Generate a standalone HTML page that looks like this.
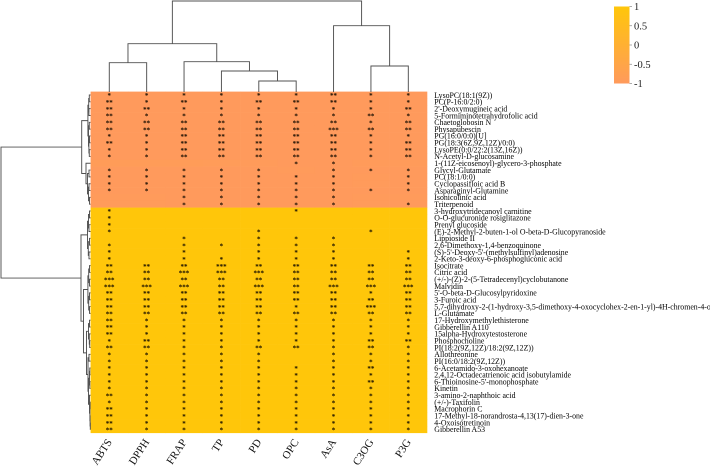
<!DOCTYPE html>
<html lang="en">
<head>
<meta charset="utf-8">
<title>Correlation heatmap</title>
<style>
  html, body { margin: 0; padding: 0; background: #fff; width: 710px; height: 467px; overflow: hidden; }
  #chart { display: block; filter: blur(0.25px); font-family: "Liberation Serif", serif; }
</style>
</head>
<body>
<svg id="chart" width="710" height="467" viewBox="0 0 710 467" xmlns="http://www.w3.org/2000/svg"></svg>
<script>
const columnLabels = ["ABTS","DPPH","FRAP","TP","PD","OPC","AsA","C3OG","P3G"];
const rowLabels = [
"LysoPC(18:1(9Z))","PC(P-16:0/2:0)","2'-Deoxymugineic acid","5-Formiminotetrahydrofolic acid","Chaetoglobosin N","Physapubescin","PG(16:0/0:0)[U]","PG(18:3(6Z,9Z,12Z)/0:0)","LysoPE(0:0/22:2(13Z,16Z))","N-Acetyl-D-glucosamine",
"1-(11Z-eicosenoyl)-glycero-3-phosphate","Glycyl-Glutamate","PC(18:1/0:0)","Cyclopassifloic acid B","Asparaginyl-Glutamine","Isonicolinic acid","Triterpenoid","3-hydroxytridecanoyl carnitine","O-O-glucuronide rosiglitazone","Prenyl glucoside",
"(E)-2-Methyl-2-buten-1-ol O-beta-D-Glucopyranoside","Lippioside II","2,6-Dimethoxy-1,4-benzoquinone","(S)-5'-Deoxy-5'-(methylsulfinyl)adenosine","2-Keto-3-deoxy-6-phosphogluconic acid","Isocitrate","Citric acid","(+/-)-(Z)-2-(5-Tetradecenyl)cyclobutanone","Malvidin","5'-O-beta-D-Glucosylpyridoxine",
"3-Furoic acid","5,7-dihydroxy-2-(1-hydroxy-3,5-dimethoxy-4-oxocyclohex-2-en-1-yl)-4H-chromen-4-one","L-Glutamate","17-Hydroxymethylethisterone","Gibberellin A110","15alpha-Hydroxytestosterone","Phosphocholine","PI(18:2(9Z,12Z)/18:2(9Z,12Z))","Allothreonine","PI(16:0/18:2(9Z,12Z))",
"6-Acetamido-3-oxohexanoate","2,4,12-Octadecatrienoic acid isobutylamide","6-Thioinosine-5'-monophosphate","Kinetin","3-amino-2-naphthoic acid","(+/-)-Taxifolin","Macrophorin C","17-Methyl-18-norandrosta-4,13(17)-dien-3-one","4-Oxoisotretinoin","Gibberellin A53"
];
const cellValues = [
[-1,-1,-1,-1,-1,-1,-1,-1,-1],[-1,-1,-1,-1,-1,-1,-1,-1,-1],[-1,-1,-1,-1,-1,-1,-1,-1,-1],[-1,-1,-1,-1,-1,-1,-1,-1,-1],[-1,-1,-1,-1,-1,-1,-1,-1,-1],
[-1,-1,-1,-1,-1,-1,-1,-1,-1],[-1,-1,-1,-1,-1,-1,-1,-1,-1],[-1,-1,-1,-1,-1,-1,-1,-1,-1],[-1,-1,-1,-1,-1,-1,-1,-1,-1],[-1,-1,-1,-1,-1,-1,-1,-1,-1],
[-0.9,-0.9,-0.9,-0.92,-0.95,-1,-1,-0.95,-0.95],[-1,-1,-1,-1,-1,-0.97,-1,-1,-1],[-1,-1,-1,-1,-1,-1,-1,-0.97,-1],[-1,-1,-1,-1,-1,-1,-1,-0.97,-1],[-1,-1,-1,-1,-1,-1,-1,-1,-1],
[-0.97,-0.97,-1,-1,-1,-1,-1,-0.97,-0.97],[-0.97,-0.97,-1,-1,-1,-1,-1,-0.97,-1],
[1,1,1,1,1,1,1,1,1],[1,1,1,1,1,1,1,1,1],[1,1,1,1,1,1,1,1,1],[1,1,1,1,1,1,1,1,1],[1,1,1,1,1,1,1,1,1],[1,1,1,1,1,1,1,1,1],[1,1,1,1,1,1,1,1,1],[1,1,1,1,1,1,1,1,1],
[1,1,1,1,1,1,1,1,1],[1,1,1,1,1,1,1,1,1],[1,1,1,1,1,1,1,1,1],[1,1,1,1,1,1,1,1,1],[1,1,1,1,1,1,1,1,1],[1,1,1,1,1,1,1,1,1],[1,1,1,1,1,1,1,1,1],[1,1,1,1,1,1,1,1,1],
[1,1,1,1,1,1,1,1,1],[1,1,1,1,1,1,1,1,1],[1,1,1,1,1,1,1,1,1],[1,1,1,1,1,1,1,1,1],[1,1,1,1,1,1,1,1,1],[1,1,1,1,1,1,1,1,1],[1,1,1,1,1,1,1,1,1],[1,1,1,1,1,1,1,1,1],
[1,1,1,1,1,1,1,1,1],[1,1,1,1,1,1,1,1,1],[1,1,1,1,1,1,1,1,1],[1,1,1,1,1,1,1,1,1],[1,1,1,1,1,1,1,1,1],[1,1,1,1,1,1,1,1,1],[1,1,1,1,1,1,1,1,1],[1,1,1,1,1,1,1,1,1],[1,1,1,1,1,1,1,1,1]
];
const starCounts = [
[1,1,1,1,1,1,2,1,1],[2,1,2,1,2,2,2,1,1],[2,2,1,1,1,1,1,1,2],[2,1,1,1,1,1,1,2,1],[2,2,2,2,2,2,2,1,2],
[2,2,2,2,2,2,3,2,2],[1,1,2,2,2,2,2,1,1],[2,1,2,2,2,2,2,1,2],[1,1,2,2,2,2,2,1,2],[1,1,2,2,2,2,2,1,2],
[0,0,0,0,0,1,1,0,0],[1,1,1,1,1,0,1,1,1],[1,1,1,1,1,1,1,0,1],[1,1,1,1,1,1,1,0,1],[1,1,1,1,1,1,1,1,1],
[0,0,1,1,1,1,1,0,0],[0,0,1,1,1,1,1,0,1],
[1,0,0,0,0,1,0,0,0],[1,0,0,0,0,0,0,0,0],[1,0,0,0,0,0,0,0,0],[1,0,0,0,1,0,0,1,0],[0,0,1,0,1,1,1,0,0],[1,0,1,1,1,1,1,0,0],[1,0,1,0,1,1,1,0,1],[1,0,1,1,1,1,1,0,1],
[2,2,2,3,2,2,2,2,2],[2,2,3,3,3,2,2,2,2],[3,2,2,2,2,2,2,2,2],[3,3,3,2,3,2,3,3,3],[2,2,2,2,2,2,2,1,2],[2,2,2,2,2,2,2,2,2],[2,2,2,2,2,1,2,3,2],[2,2,2,2,2,2,2,2,2],
[2,1,1,1,1,1,1,1,1],[2,1,1,1,1,1,1,1,1],[2,1,1,1,1,1,1,1,1],[1,2,1,1,1,1,1,2,2],[2,2,1,1,2,2,1,2,1],[1,1,1,1,1,0,1,1,1],[1,1,1,1,1,0,1,1,1],
[1,1,1,1,1,1,1,2,1],[1,1,1,1,1,1,1,1,1],[1,1,1,1,1,1,1,2,1],[1,1,1,1,1,1,1,1,1],[2,1,1,1,1,1,1,1,1],[1,1,1,1,1,1,1,1,1],[2,1,1,1,1,1,1,1,1],[2,1,1,1,1,1,1,1,1],[2,1,1,1,1,1,1,1,1],[2,1,1,1,1,1,1,1,1]
];
const colorTicks = [1, 0.5, 0, -0.5, -1];
/* dendrograms: [mergeHeight, leftChild, rightChild]; a bare number is a leaf index */
const columnTree = [91,[48.3,[29.3,0,1],[30.3,2,[21,3,[11,4,5]]]],[66.3,6,[26,7,8]]];
const rowTree = [89.5,
  [8.8,
    [2.6,[1.8,[1.2,0,1],[1.6,2,3]],[2,[1.2,4,5],[1.6,[1,6,7],[1.2,8,9]]]],
    [4.5,10,[3,[1.5,11,12],[2,[1.5,13,14],[1,15,16]]]]],
  [9.5,
    [3,[2,[1,17,18],[1.5,19,20]],[2.2,[1,21,22],[1.5,23,24]]],
    [7,
      [2.6,[1.8,[1,25,26],[1,27,28]],[1.8,[1,29,30],[1,31,32]]],
      [4,
        [2,[1,33,34],[1.2,35,[0.8,36,37]]],
        [2.5,[1.5,38,39],[2,[1,[0.7,40,41],[0.7,42,43]],[1,44,[0.6,[0.4,45,46],[0.4,47,[0.2,48,49]]]]]]]]]];

const svg = document.getElementById('chart');
const NS = 'http://www.w3.org/2000/svg';
const plot = { left: 90.6, top: 91.6, right: 427, bottom: 432.8 };
const colW = (plot.right - plot.left) / columnLabels.length;
const rowH = (plot.bottom - plot.top) / rowLabels.length;
const xBand = i => plot.left + i * colW;
const yBand = i => plot.top + i * rowH;
const lowColor = [255, 154, 92], highColor = [255, 198, 10];
function colorScale(v) {
  const t = (v + 1) / 2;
  const c = lowColor.map((l, i) => Math.round(l + (highColor[i] - l) * t));
  return 'rgb(' + c.join(',') + ')';
}
function make(tag, attrs, parent) {
  const el = document.createElementNS(NS, tag);
  for (const k in attrs) el.setAttribute(k, attrs[k]);
  (parent || svg).appendChild(el);
  return el;
}

/* heatmap cells */
const cellsG = make('g', {});


cellValues.forEach((row, r) => row.forEach((v, c) => {
  const cell = make('rect', { x: xBand(c), y: yBand(r), width: colW + 0.3, height: rowH + 0.3, fill: colorScale(v) }, cellsG);
  
  
}));

/* significance stars */
const starsG = make('g', { 'font-size': 7, 'font-weight': 'bold', 'text-anchor': 'middle', fill: '#140c00' });


starCounts.forEach((row, r) => row.forEach((n, c) => {
  if (!n) return;
  const t = make('text', { x: xBand(c) + colW / 2, y: yBand(r) + rowH / 2 + 3.2 }, starsG);
  t.textContent = '*'.repeat(n);
  
  
}));

/* row labels: glyphs are horizontally condensed in the reference */
const rowLabelG = make('g', { 'font-size': 8.85, fill: '#000', transform: 'translate(434.3 0) scale(0.886 1)' });


rowLabels.forEach((s, r) => {
  const t = make('text', { x: 0, y: yBand(r) + rowH / 2 + 2.8 }, rowLabelG);
  t.textContent = s;
  
  
});

/* column labels */
const colLabelG = make('g', { 'font-size': 11, 'text-anchor': 'end', fill: '#111' });


columnLabels.forEach((s, c) => {
  const x = xBand(c) + colW / 2 + 3, y = 442;
  const t = make('text', { x: x, y: y, transform: 'rotate(-57 ' + x + ' ' + y + ')' }, colLabelG);
  t.textContent = s;
  
  
});

/* dendrograms */
function drawTree(node, leafPos, heightPos, horizontal, group) {
  if (typeof node === 'number') return { pos: leafPos(node), h: heightPos(0) };
  const a = drawTree(node[1], leafPos, heightPos, horizontal, group);
  const b = drawTree(node[2], leafPos, heightPos, horizontal, group);
  const h = heightPos(node[0]);
  const d = horizontal
    ? 'M' + a.h + ' ' + a.pos + 'H' + h + 'V' + b.pos + 'H' + b.h
    : 'M' + a.pos + ' ' + a.h + 'V' + h + 'H' + b.pos + 'V' + b.h;
  const p = make('path', { d: d, fill: 'none', stroke: '#505050', 'stroke-width': 0.95 }, group);
  
  
  return { pos: (a.pos + b.pos) / 2, h: h };
}
const colTreeG = make('g', {});


drawTree(columnTree, i => xBand(i) + colW / 2, h => 92 - h, false, colTreeG);
const rowTreeG = make('g', {});


drawTree(rowTree, i => yBand(i) + rowH / 2, h => 90.5 - h, true, rowTreeG);

/* colour bar */
const barTop = 6.5, barBottom = 83.5, barLeft = 614, barRight = 629.5;
const defs = make('defs', {});
const grad = make('linearGradient', { id: 'barGrad', x1: 0, y1: 0, x2: 0, y2: 1 }, defs);
make('stop', { offset: '0', 'stop-color': colorScale(1) }, grad);
make('stop', { offset: '1', 'stop-color': colorScale(-1) }, grad);
const bar = make('rect', { x: barLeft, y: barTop, width: barRight - barLeft, height: barBottom - barTop, fill: 'url(#barGrad)' });


const barY = v => barBottom - (v + 1) / 2 * (barBottom - barTop);
colorTicks.forEach(v => {
  const tick = make('line', { x1: barRight, x2: barRight + 2.5, y1: barY(v), y2: barY(v), stroke: '#888', 'stroke-width': 0.7 });
  
  
  const t = make('text', { x: 634, y: barY(v) + 3.6, 'font-size': 10.5, fill: '#222' });
  t.textContent = String(v);
  
  
});
</script>
</body>
</html>
